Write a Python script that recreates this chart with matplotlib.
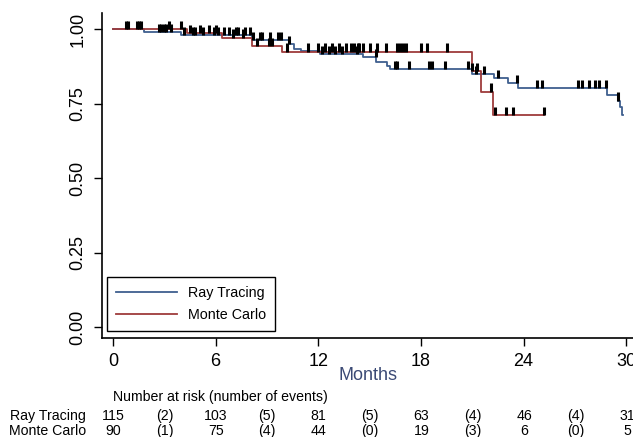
import matplotlib.pyplot as plt
import numpy as np

plt.rcParams['font.family'] = ['Liberation Sans', 'DejaVu Sans']

# Kaplan-Meier steps (time in months, survival)
rt_time = [0, 1.83, 4.0, 8.1, 10.3, 10.6, 11.0, 12.1, 14.6, 15.4, 16.0, 16.2,
           21.0, 22.3, 23.1, 23.7, 28.9, 29.55, 29.65, 29.75]
rt_surv = [1.0, 0.989, 0.979, 0.964, 0.95, 0.935, 0.927, 0.916, 0.905, 0.889, 0.877, 0.866,
           0.849, 0.835, 0.819, 0.802, 0.78, 0.76, 0.74, 0.712]
rt_end = 29.8

mc_time = [0, 4.3, 6.35, 8.1, 9.85, 21.0, 21.5, 22.2]
mc_surv = [1.0, 0.987, 0.972, 0.942, 0.925, 0.858, 0.79, 0.712]
mc_end = 25.2

# censoring times
rt_cens = [2.7, 2.8, 3.0, 3.1, 3.4, 4.15, 4.65, 4.8, 5.27, 5.9, 6.15, 6.5, 6.8, 7.2, 7.3,
           7.7, 8.0, 8.2, 8.6, 8.7, 9.2, 9.65, 9.8, 10.3, 12.2, 12.6, 13.0, 13.4, 14.26,
           15.35, 16.46, 16.6, 17.3, 18.5, 18.65, 19.4, 20.75, 21.2, 21.7, 22.5, 23.6,
           24.8, 25.1, 27.2, 27.4, 27.85, 28.2, 28.4, 28.8, 29.55]
mc_cens = [0.76, 0.89, 1.42, 1.51, 1.61, 3.3, 4.0, 4.5, 5.1, 5.6, 6.0, 7.0, 7.6, 8.4, 9.1,
           9.3, 10.2, 11.4, 12.0, 12.4, 12.8, 13.2, 13.6, 13.9, 14.1, 14.3, 14.4, 14.6,
           15.0, 15.45, 15.98, 16.6, 16.75, 16.98, 17.1, 18.0, 18.35, 19.5, 21.0, 21.3,
           22.1, 22.36, 23.0, 23.4, 25.2]

# number at risk table
risk_months = [0, 3, 6, 9, 12, 15, 18, 21, 24, 27, 30]
rt_risk = ['115', '(2)', '103', '(5)', '81', '(5)', '63', '(4)', '46', '(4)', '31']
mc_risk = ['90', '(1)', '75', '(4)', '44', '(0)', '19', '(3)', '6', '(0)', '5']

color_rt = '#3F5F8F'
color_mc = '#9E3B3B'

fig = plt.figure(figsize=(6.33, 4.37), dpi=100)
ax = fig.add_axes([0.161, 0.2265, 0.839, 0.7435])


def surv_at(times, surv, t):
    idx = np.searchsorted(times, t, side='right') - 1
    return np.array(surv)[idx]


line_rt, = ax.step(rt_time + [rt_end], rt_surv + [rt_surv[-1]], where='post',
                   color=color_rt, lw=1.3, label='Ray Tracing')
line_mc, = ax.step(mc_time + [mc_end], mc_surv + [mc_surv[-1]], where='post',
                   color=color_mc, lw=1.3, label='Monte Carlo')

# censoring marks
for cens, times, surv in [(rt_cens, rt_time, rt_surv), (mc_cens, mc_time, mc_surv)]:
    yv = surv_at(times, surv, cens)
    ax.vlines(cens, yv, yv + 0.028, color='black', lw=2.2)

ax.set_xlim(-0.65, 30.4)
ax.set_ylim(-0.037, 1.054)
ax.set_xticks([0, 6, 12, 18, 24, 30])
ax.set_yticks([0, 0.25, 0.5, 0.75, 1.0])
ax.set_yticklabels(['0.00', '0.25', '0.50', '0.75', '1.00'], rotation=90, va='center')
ax.tick_params(labelsize=13, length=6, width=1, pad=5)
ax.spines['top'].set_visible(False)
ax.spines['right'].set_visible(False)
ax.spines['left'].set_linewidth(1.2)
ax.spines['bottom'].set_linewidth(1.2)

ax.set_xlabel('Months', color='#3B4A75', fontsize=13)
ax.xaxis.set_label_coords((14.9 + 0.65) / 31.05, -0.09)

leg = ax.legend(handles=[line_rt, line_mc], loc='lower left', bbox_to_anchor=(0.0094, 0.0215),
                borderaxespad=0, fontsize=10.3,
                fancybox=False, edgecolor='black', framealpha=1,
                handlelength=4.3, borderpad=0.62, labelspacing=0.6, handletextpad=0.77)
leg.get_frame().set_linewidth(1.0)

# at-risk table
fig.text(113 / 633, 1 - 397 / 437, 'Number at risk (number of events)', fontsize=10.2,
         ha='left', va='center')
for row_y, name, vals in [(415.7, 'Ray Tracing', rt_risk), (430.7, 'Monte Carlo', mc_risk)]:
    yy = 1 - row_y / 437
    fig.text(86 / 633, yy, name, fontsize=10.2, ha='right', va='center')
    for m, v in zip(risk_months, vals):
        xf = (113 + m * 17.13) / 633
        fig.text(xf, yy, v, fontsize=10.2, ha='center', va='center')

fig.savefig('out.png', dpi=100)
